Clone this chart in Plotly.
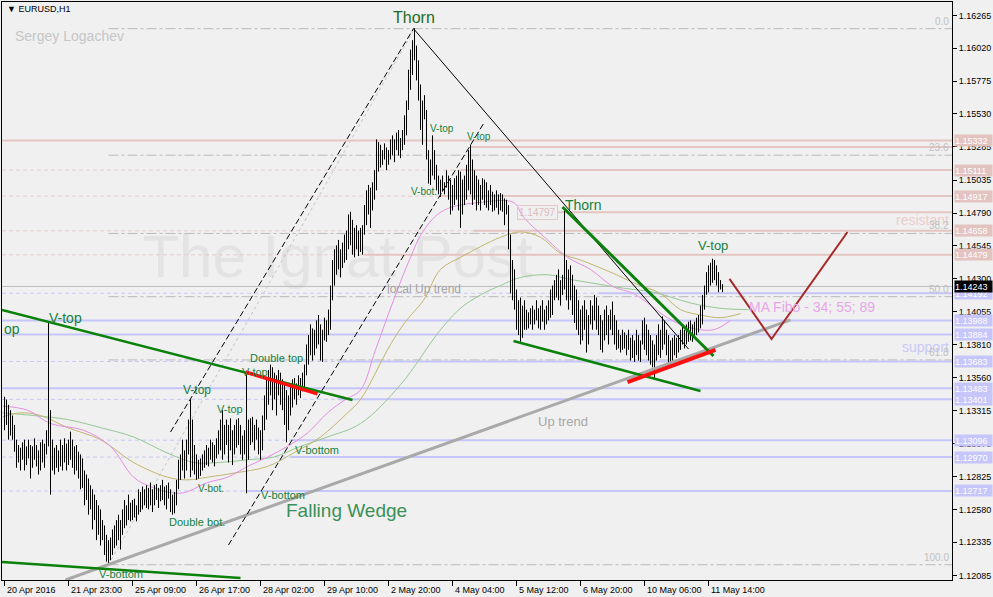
import plotly.graph_objects as go

# ---------------- data (prices in pips, 1 pip = 0.0001) ----------------
HIGH_PIPS = [
    11342, 11340, 11336, 11332, 11328, 11321, 11310, 11306, 11304, 11308,
    11310, 11305, 11310, 11306, 11305, 11311, 11306, 11302, 11308, 11310,
    11307, 11317, 11398, 11332, 11310, 11304, 11306, 11302, 11310, 11306,
    11311, 11307, 11310, 11316, 11310, 11305, 11306, 11301, 11299, 11296,
    11287, 11284, 11281, 11276, 11273, 11269, 11265, 11261, 11258, 11250,
    11246, 11239, 11235, 11237, 11243, 11246, 11250, 11254, 11250, 11258,
    11265, 11261, 11269, 11263, 11265, 11266, 11261, 11273, 11271, 11275,
    11273, 11276, 11274, 11278, 11273, 11276, 11277, 11274, 11276, 11280,
    11275, 11276, 11278, 11273, 11269, 11271, 11280, 11295, 11299, 11310,
    11302, 11310, 11325, 11340, 11325, 11306, 11299, 11295, 11296, 11299,
    11302, 11306, 11304, 11310, 11308, 11306, 11311, 11317, 11325, 11332,
    11321, 11325, 11321, 11326, 11317, 11321, 11325, 11326, 11321, 11313,
    11317, 11360, 11325, 11326, 11327, 11321, 11325, 11319, 11317, 11328,
    11343, 11355, 11362, 11366, 11364, 11360, 11358, 11362, 11360, 11355,
    11351, 11347, 11343, 11351, 11355, 11356, 11352, 11358, 11356, 11360,
    11366, 11381, 11388, 11396, 11393, 11392, 11399, 11403, 11396, 11392,
    11401, 11399, 11407, 11425, 11444, 11452, 11455, 11459, 11452, 11457,
    11463, 11466, 11478, 11480, 11474, 11468, 11470, 11466, 11468, 11470,
    11485, 11496, 11500, 11498, 11502, 11511, 11534, 11532, 11530, 11526,
    11531, 11528, 11526, 11534, 11537, 11534, 11539, 11541, 11535, 11541,
    11552, 11563, 11586, 11601, 11608, 11617, 11604, 11593, 11575, 11563,
    11567, 11556, 11526, 11519, 11537, 11526, 11515, 11507, 11504, 11507,
    11502, 11511, 11507, 11504, 11500, 11505, 11507, 11511, 11510, 11504,
    11507, 11515, 11526, 11530, 11519, 11511, 11507, 11504, 11500, 11505,
    11504, 11502, 11496, 11500, 11495, 11493, 11496, 11493, 11494, 11493,
    11490, 11489, 11485, 11463, 11444, 11437, 11422, 11414, 11416, 11410,
    11414, 11407, 11405, 11408, 11410, 11407, 11414, 11408, 11410, 11414,
    11407, 11410, 11414, 11422, 11425, 11429, 11433, 11437, 11429, 11433,
    11481, 11444, 11437, 11440, 11433, 11425, 11422, 11414, 11407, 11410,
    11414, 11407, 11403, 11414, 11410, 11418, 11416, 11410, 11403, 11399,
    11407, 11410, 11403, 11407, 11413, 11403, 11399, 11392, 11388, 11392,
    11390, 11388, 11392, 11386, 11388, 11384, 11392, 11388, 11384, 11399,
    11401, 11396, 11392, 11388, 11384, 11381, 11388, 11396, 11392, 11402,
    11399, 11392, 11388, 11384, 11386, 11388, 11386, 11388, 11392, 11396,
    11392, 11396, 11398, 11399, 11396, 11398, 11401, 11403, 11410, 11418,
    11425, 11435, 11440, 11442, 11445, 11444, 11440, 11435, 11429, 11426,
]
LOW_PIPS = [
    11317, 11321, 11310, 11313, 11310, 11301, 11289, 11293, 11287, 11295,
    11287, 11291, 11296, 11281, 11289, 11295, 11290, 11284, 11287, 11293,
    11289, 11299, 11305, 11269, 11287, 11284, 11289, 11286, 11290, 11287,
    11293, 11287, 11291, 11295, 11289, 11284, 11287, 11281, 11273, 11274,
    11261, 11265, 11254, 11258, 11243, 11250, 11235, 11239, 11231, 11235,
    11224, 11219, 11216, 11220, 11224, 11229, 11231, 11235, 11228, 11239,
    11244, 11246, 11250, 11249, 11250, 11252, 11249, 11254, 11256, 11258,
    11261, 11259, 11258, 11261, 11256, 11261, 11265, 11259, 11264, 11265,
    11261, 11258, 11266, 11256, 11254, 11255, 11261, 11273, 11280, 11287,
    11281, 11287, 11299, 11282, 11287, 11284, 11280, 11281, 11283, 11287,
    11289, 11291, 11290, 11295, 11293, 11290, 11296, 11299, 11302, 11295,
    11299, 11306, 11293, 11302, 11291, 11299, 11304, 11306, 11299, 11295,
    11299, 11270, 11295, 11306, 11308, 11302, 11310, 11299, 11295, 11302,
    11317, 11325, 11336, 11343, 11332, 11340, 11328, 11343, 11336, 11332,
    11321, 11308, 11317, 11328, 11334, 11340, 11336, 11343, 11341, 11346,
    11347, 11358, 11366, 11373, 11369, 11373, 11378, 11381, 11369, 11368,
    11384, 11383, 11388, 11392, 11414, 11425, 11433, 11437, 11431, 11438,
    11442, 11444, 11452, 11455, 11448, 11446, 11452, 11447, 11450, 11448,
    11463, 11470, 11478, 11468, 11481, 11489, 11496, 11510, 11513, 11515,
    11519, 11511, 11515, 11519, 11522, 11517, 11526, 11522, 11520, 11526,
    11530, 11537, 11556, 11571, 11582, 11593, 11578, 11563, 11541, 11530,
    11549, 11519, 11501, 11500, 11507, 11504, 11496, 11493, 11491, 11495,
    11493, 11498, 11489, 11478, 11481, 11485, 11489, 11481, 11468, 11478,
    11485, 11489, 11496, 11493, 11485, 11489, 11481, 11485, 11481, 11489,
    11485, 11483, 11481, 11485, 11480, 11481, 11483, 11478, 11481, 11480,
    11470, 11478, 11452, 11419, 11414, 11407, 11392, 11388, 11383, 11386,
    11392, 11392, 11393, 11396, 11392, 11396, 11399, 11393, 11392, 11398,
    11392, 11396, 11399, 11401, 11403, 11414, 11416, 11414, 11410, 11418,
    11422, 11414, 11407, 11414, 11403, 11397, 11392, 11388, 11381, 11384,
    11392, 11375, 11381, 11396, 11392, 11399, 11392, 11388, 11377, 11375,
    11384, 11388, 11381, 11392, 11388, 11381, 11377, 11378, 11375, 11377,
    11378, 11373, 11377, 11369, 11371, 11368, 11373, 11369, 11368, 11381,
    11377, 11373, 11369, 11366, 11364, 11356, 11369, 11373, 11371, 11377,
    11381, 11373, 11366, 11368, 11369, 11373, 11371, 11375, 11377, 11381,
    11378, 11381, 11383, 11384, 11383, 11386, 11388, 11390, 11393, 11396,
    11407, 11418, 11420, 11425, 11427, 11429, 11425, 11420, 11422, 11420,
]
PIP = 0.0001

X_TICK_BARS = [0, 32, 64, 96, 128, 160, 192, 224, 256, 288, 320, 352]
X_TICK_LABELS = ["20 Apr 2016", "21 Apr 23:00", "25 Apr 09:00", "26 Apr 17:00",
                 "28 Apr 02:00", "29 Apr 10:00", "2 May 20:00", "4 May 04:00",
                 "5 May 12:00", "6 May 20:00", "10 May 06:00", "11 May 14:00"]
Y_TICK_LABELS = ["1.16265", "1.16020", "1.15775", "1.15530", "1.15285", "1.15035",
                 "1.14790", "1.14545", "1.14300", "1.14055", "1.13810", "1.13560",
                 "1.13315", "1.13070", "1.12825", "1.12580", "1.12335", "1.12085"]

# moving averages (34, 55, 89) read at sample bars
MA34_BARS = [-1, 11.5, 23, 39.5, 53, 64.5, 73, 88, 101.5, 111.5, 121.5, 131.5, 141.5,
             151.5, 161.5, 170.5, 178, 185.5, 194.5, 203, 209.5, 219.5, 238, 254.5,
             259.5, 271.5, 281.5, 293, 304.5, 314.5, 331.5, 341.5, 354.5, 363]
MA34_PIPS = [11335, 11332, 11322, 11317, 11305, 11282, 11275, 11270, 11278, 11282,
             11290, 11297, 11305, 11315, 11330, 11340, 11347, 11377, 11414, 11446,
             11466, 11481, 11487, 11487, 11476, 11459, 11446, 11437, 11424, 11419,
             11401, 11394, 11392, 11399]
MA55_BARS = [-1, 8, 18, 31.5, 48, 64.5, 81.5, 91.5, 101.5, 114.5, 131.5, 144.5, 158,
             171.5, 178, 193, 200.5, 209.5, 218, 228, 238, 248, 258, 268, 278, 288,
             304.5, 314.5, 328, 338, 348, 358, 368]
MA55_PIPS = [11327, 11330, 11328, 11319, 11310, 11293, 11282, 11280, 11282, 11285,
             11290, 11300, 11312, 11330, 11340, 11381, 11398, 11414, 11437, 11446,
             11454, 11461, 11465, 11461, 11449, 11444, 11434, 11427, 11419, 11407,
             11403, 11401, 11404]
MA89_BARS = [-1, 14.5, 31.5, 48, 64.5, 81.5, 94.5, 108, 121.5, 134.5, 148, 161.5, 178,
             198, 218, 228, 238, 248, 258, 271.5, 281.5, 293, 309.5, 324.5, 343, 358, 372]
MA89_PIPS = [11330, 11328, 11325, 11319, 11312, 11300, 11293, 11293, 11295, 11297,
             11305, 11312, 11322, 11351, 11392, 11408, 11418, 11425, 11431, 11433,
             11430, 11427, 11423, 11420, 11412, 11408, 11407]

# horizontal levels: price, bar where the solid part begins
RES_LEVELS = [1.15332, 1.15284, 1.15111, 1.14917, 1.14797, 1.14658, 1.14479]
RES_START = [-1.25, 233, 228, 218, 276.5, 234.5, 179.5]
RES_LABELED = [True, False, True, True, False, True, True]
SUP_LEVELS = [1.14192, 1.13988, 1.13884, 1.13683, 1.13483, 1.13401, 1.13096, 1.12970, 1.12717]
SUP_START = [297, -1.25, -1.25, 167, -1.25, 166.5, 143, 143, 120.5]
BID = 1.14243

# fibonacci retracement anchors
FIB_LOW_BAR, FIB_LOW = 52, 1.12167
FIB_HIGH_BAR, FIB_HIGH = 205, 1.16166
FIB_RATIOS = [0.0, 23.6, 38.2, 50.0, 61.8, 100.0]

# drawn trend lines (bar, price)
WEDGE_TOP = ([-1.25, 174], [1.14067, 1.13396])
LOW_LEFT = ([-1.25, 118], [1.12188, 1.12068])
RED_TOP = ([120.5, 156.5], [1.13605, 1.13441])
CHAN_UP = ([83, 204.5], [1.13157, 1.16166])
CHAN_LOW = ([112, 240], [1.12314, 1.15470])
THORN_THIN = ([204.5, 342], [1.16166, 1.13776])
THORN_GREEN = ([279, 354.5], [1.14836, 1.13724])
WEDGE_LOW = ([254.5, 348], [1.13836, 1.13463])
RED_BOTTOM = ([311.5, 355.5], [1.13530, 1.13769])
UP_TREND = ([30.5, 393], [1.12053, 1.13993])
FORECAST = ([362.5, 383.5, 421.5], [1.14299, 1.13851, 1.14649])

# text labels on the chart: (text, bar, price, size)
PATTERN_LABELS = [
    ("Thorn", 204.5, 1.16246, 16), ("Thorn", 289.5, 1.14851, 14),
    ("V-top", 218.5, 1.15425, 10), ("V-top", 237, 1.15358, 10),
    ("V-bot.", 209.5, 1.14955, 10), ("V-top", 354, 1.14545, 13),
    ("V-top", 30.5, 1.14008, 14), ("Double top", 136, 1.13709, 11),
    ("V-top", 125, 1.13605, 11), ("V-top", 96, 1.13471, 12),
    ("V-top", 112.5, 1.13329, 11), ("V-bottom", 156, 1.13023, 11),
    ("V-bot.", 103, 1.12732, 10), ("V-bottom", 139, 1.12687, 11),
    ("Double bot.", 96, 1.12486, 11), ("V-bottom", 58, 1.12098, 11),
]

X_LEFT, X_RIGHT = -1.25, 473.75
Y_BOTTOM, Y_TOP = 1.12053, 1.16365

# ---------------- styles ----------------
BG = "#f0f0f0"
RES_COLOR = "#e4c5c1"
SUP_COLOR = "#c5c5fb"
FIB_COLOR = "#b9b9b9"
TXT_GREEN = "#16803c"
FONT = "Liberation Sans"
AXFONT = "Liberation Sans"

fig = go.Figure()

def line(xs, ys, color, width, dash="solid", shape="linear"):
    fig.add_trace(go.Scatter(x=xs, y=ys, mode="lines", hoverinfo="skip",
                             line=dict(color=color, width=width, dash=dash, shape=shape)))

# watermark (behind everything)
fig.add_trace(go.Scatter(x=[166.5], y=[1.14425], mode="text", text=["The Ignat Post"],
                         textfont=dict(family=FONT, size=60, color="#e3e3e3"),
                         hoverinfo="skip"))

# fibonacci levels
fib_prices = [FIB_HIGH - r / 100.0 * (FIB_HIGH - FIB_LOW) for r in FIB_RATIOS]
for p in fib_prices:
    line([FIB_LOW_BAR, X_RIGHT], [p, p], FIB_COLOR, 1, "10px,3px,3px,3px")
line([FIB_LOW_BAR, FIB_HIGH_BAR], [FIB_LOW, FIB_HIGH], "#c4c4c4", 1, "3px,3px")

# horizontal levels
for p, s in zip(RES_LEVELS, RES_START):
    if s > X_LEFT and p not in (1.15284, 1.14797):
        line([X_LEFT, s], [p, p], "#e6caca", 1, "4px,3px")
    line([s, X_RIGHT], [p, p], RES_COLOR, 2)
line([X_LEFT, X_RIGHT], [BID, BID], "#bdbdbd", 1)
for p, s in zip(SUP_LEVELS, SUP_START):
    if s > X_LEFT:
        line([X_LEFT, s], [p, p], "#c9c9f6", 1, "4px,3px")
    line([s, X_RIGHT], [p, p], SUP_COLOR, 2)

# moving averages
line(MA89_BARS, [v * PIP for v in MA89_PIPS], "#93c993", 1, shape="spline")
line(MA55_BARS, [v * PIP for v in MA55_PIPS], "#c2b66e", 1, shape="spline")
line(MA34_BARS, [v * PIP for v in MA34_PIPS], "#e48ee4", 1, shape="spline")

# price bars: one thin vertical stroke per hour, high to low
bx, by = [], []
for i, (h, l) in enumerate(zip(HIGH_PIPS, LOW_PIPS)):
    bx += [i, i, None]
    by += [h * PIP, l * PIP, None]
fig.add_trace(go.Scatter(x=bx, y=by, mode="lines", hoverinfo="skip",
                         line=dict(color="black", width=1)))

# trend lines / drawings
line(*UP_TREND, "#a9a9a9", 3)
line(*CHAN_UP, "black", 1, "6px,3px")
line(*CHAN_LOW, "black", 1, "6px,3px")
line(*THORN_THIN, "black", 1)
line(*WEDGE_TOP, "#0a820a", 2.5)
line(*LOW_LEFT, "#0a820a", 2.5)
line(*THORN_GREEN, "#0a820a", 3)
line(*WEDGE_LOW, "#0a820a", 2.5)
line(*RED_TOP, "#ff1010", 3.5)
line(*RED_BOTTOM, "#ff1010", 4)
line(*FORECAST, "#a82a2a", 2)

ann = []
for t, b, p, s in PATTERN_LABELS:
    col = "#1e6a24" if (t == "Thorn" and s == 16) else TXT_GREEN
    ann.append(dict(x=b, y=p, text=t, showarrow=False, font=dict(family=FONT, size=s, color=col)))
ann.append(dict(x=X_LEFT, y=1.13926, text="op", showarrow=False, xanchor="left",
                font=dict(family=FONT, size=14, color=TXT_GREEN)))
ann.append(dict(x=171, y=1.12575, text="Falling Wedge", showarrow=False,
                font=dict(family=FONT, size=19, color="#3a9058")))
ann.append(dict(x=209.5, y=1.14224, text="local Up trend", showarrow=False,
                font=dict(family=FONT, size=12, color="#a4a4a4")))
ann.append(dict(x=279, y=1.13232, text="Up trend", showarrow=False,
                font=dict(family=FONT, size=13, color="#a8a8a8")))
ann.append(dict(x=403.5, y=1.14090, text="MA Fibo - 34; 55; 89", showarrow=False,
                font=dict(family=FONT, size=14, color="#e8a6e8")))
ann.append(dict(x=473, y=1.14739, text="resistant", showarrow=False, xanchor="right",
                font=dict(family=FONT, size=14, color="#ebcdcd")))
ann.append(dict(x=473, y=1.13791, text="support", showarrow=False, xanchor="right",
                font=dict(family=FONT, size=14, color="#c8c8f6")))
ann.append(dict(x=266.5, y=1.14797, text="1.14797", showarrow=False,
                font=dict(family=FONT, size=10, color="#dcbcbc"),
                bordercolor="#e2c8c8", borderwidth=1, borderpad=1))
for r, p in zip(FIB_RATIOS, fib_prices):
    ann.append(dict(x=473, y=p, text="%.1f" % r, showarrow=False, xanchor="right",
                    yanchor="bottom", font=dict(family=FONT, size=10, color="#c0c0c0")))
ann.append(dict(x=0, xref="paper", y=1.16310, text="▼ EURUSD,H1", showarrow=False,
                xanchor="left", xshift=3, font=dict(family=FONT, size=9, color="black")))
ann.append(dict(x=0, xref="paper", y=1.16115, text="Sergey Logachev", showarrow=False,
                xanchor="left", xshift=11, font=dict(family=FONT, size=14, color="#c6c6c6")))
for p, lab in zip(RES_LEVELS, RES_LABELED):
    if lab:
        ann.append(dict(x=1, xref="paper", y=p, text="%.5f" % p, showarrow=False,
                        xanchor="left", xshift=2, width=37, height=11, bgcolor="#e2c3bf",
                        align="left", borderpad=0,
                        font=dict(family=AXFONT, size=9, color="white")))
for p in SUP_LEVELS:
    ann.append(dict(x=1, xref="paper", y=p, text="%.5f" % p, showarrow=False,
                    xanchor="left", xshift=2, width=37, height=11, bgcolor="#c6c6fb",
                    align="left", borderpad=0,
                    font=dict(family=AXFONT, size=9, color="white")))
ann.append(dict(x=1, xref="paper", y=BID, text="%.5f" % BID, showarrow=False,
                xanchor="left", xshift=2, width=37, height=11, bgcolor="black",
                align="left", borderpad=0, font=dict(family=AXFONT, size=9, color="white")))
for b, t in zip(X_TICK_BARS, X_TICK_LABELS):
    ann.append(dict(x=b, y=0, yref="paper", text=t, showarrow=False, xanchor="left",
                    yanchor="top", xshift=0, yshift=-3,
                    font=dict(family=AXFONT, size=9, color="black")))

fig.update_layout(
    width=993, height=597,
    margin=dict(l=2, r=41, t=2, b=17),
    paper_bgcolor=BG, plot_bgcolor=BG,
    showlegend=False,
    annotations=ann,
    xaxis=dict(range=[X_LEFT, X_RIGHT], showgrid=False, zeroline=False,
               showline=True, linecolor="black", linewidth=1, mirror=True,
               tickvals=X_TICK_BARS, ticks="outside", ticklen=5, tickcolor="black",
               showticklabels=False),
    yaxis=dict(range=[Y_BOTTOM, Y_TOP], side="right", showgrid=False, zeroline=False,
               showline=True, linecolor="black", linewidth=1, mirror=True,
               tickvals=[float(t) for t in Y_TICK_LABELS], ticktext=Y_TICK_LABELS,
               ticks="outside", ticklen=4, tickcolor="black",
               tickfont=dict(family=AXFONT, size=9, color="black")),
)

fig.write_html("out.html", config={"displayModeBar": False},
               post_script="document.body.style.margin='0';document.body.style.padding='0';"
                           "document.body.style.overflow='hidden';")
